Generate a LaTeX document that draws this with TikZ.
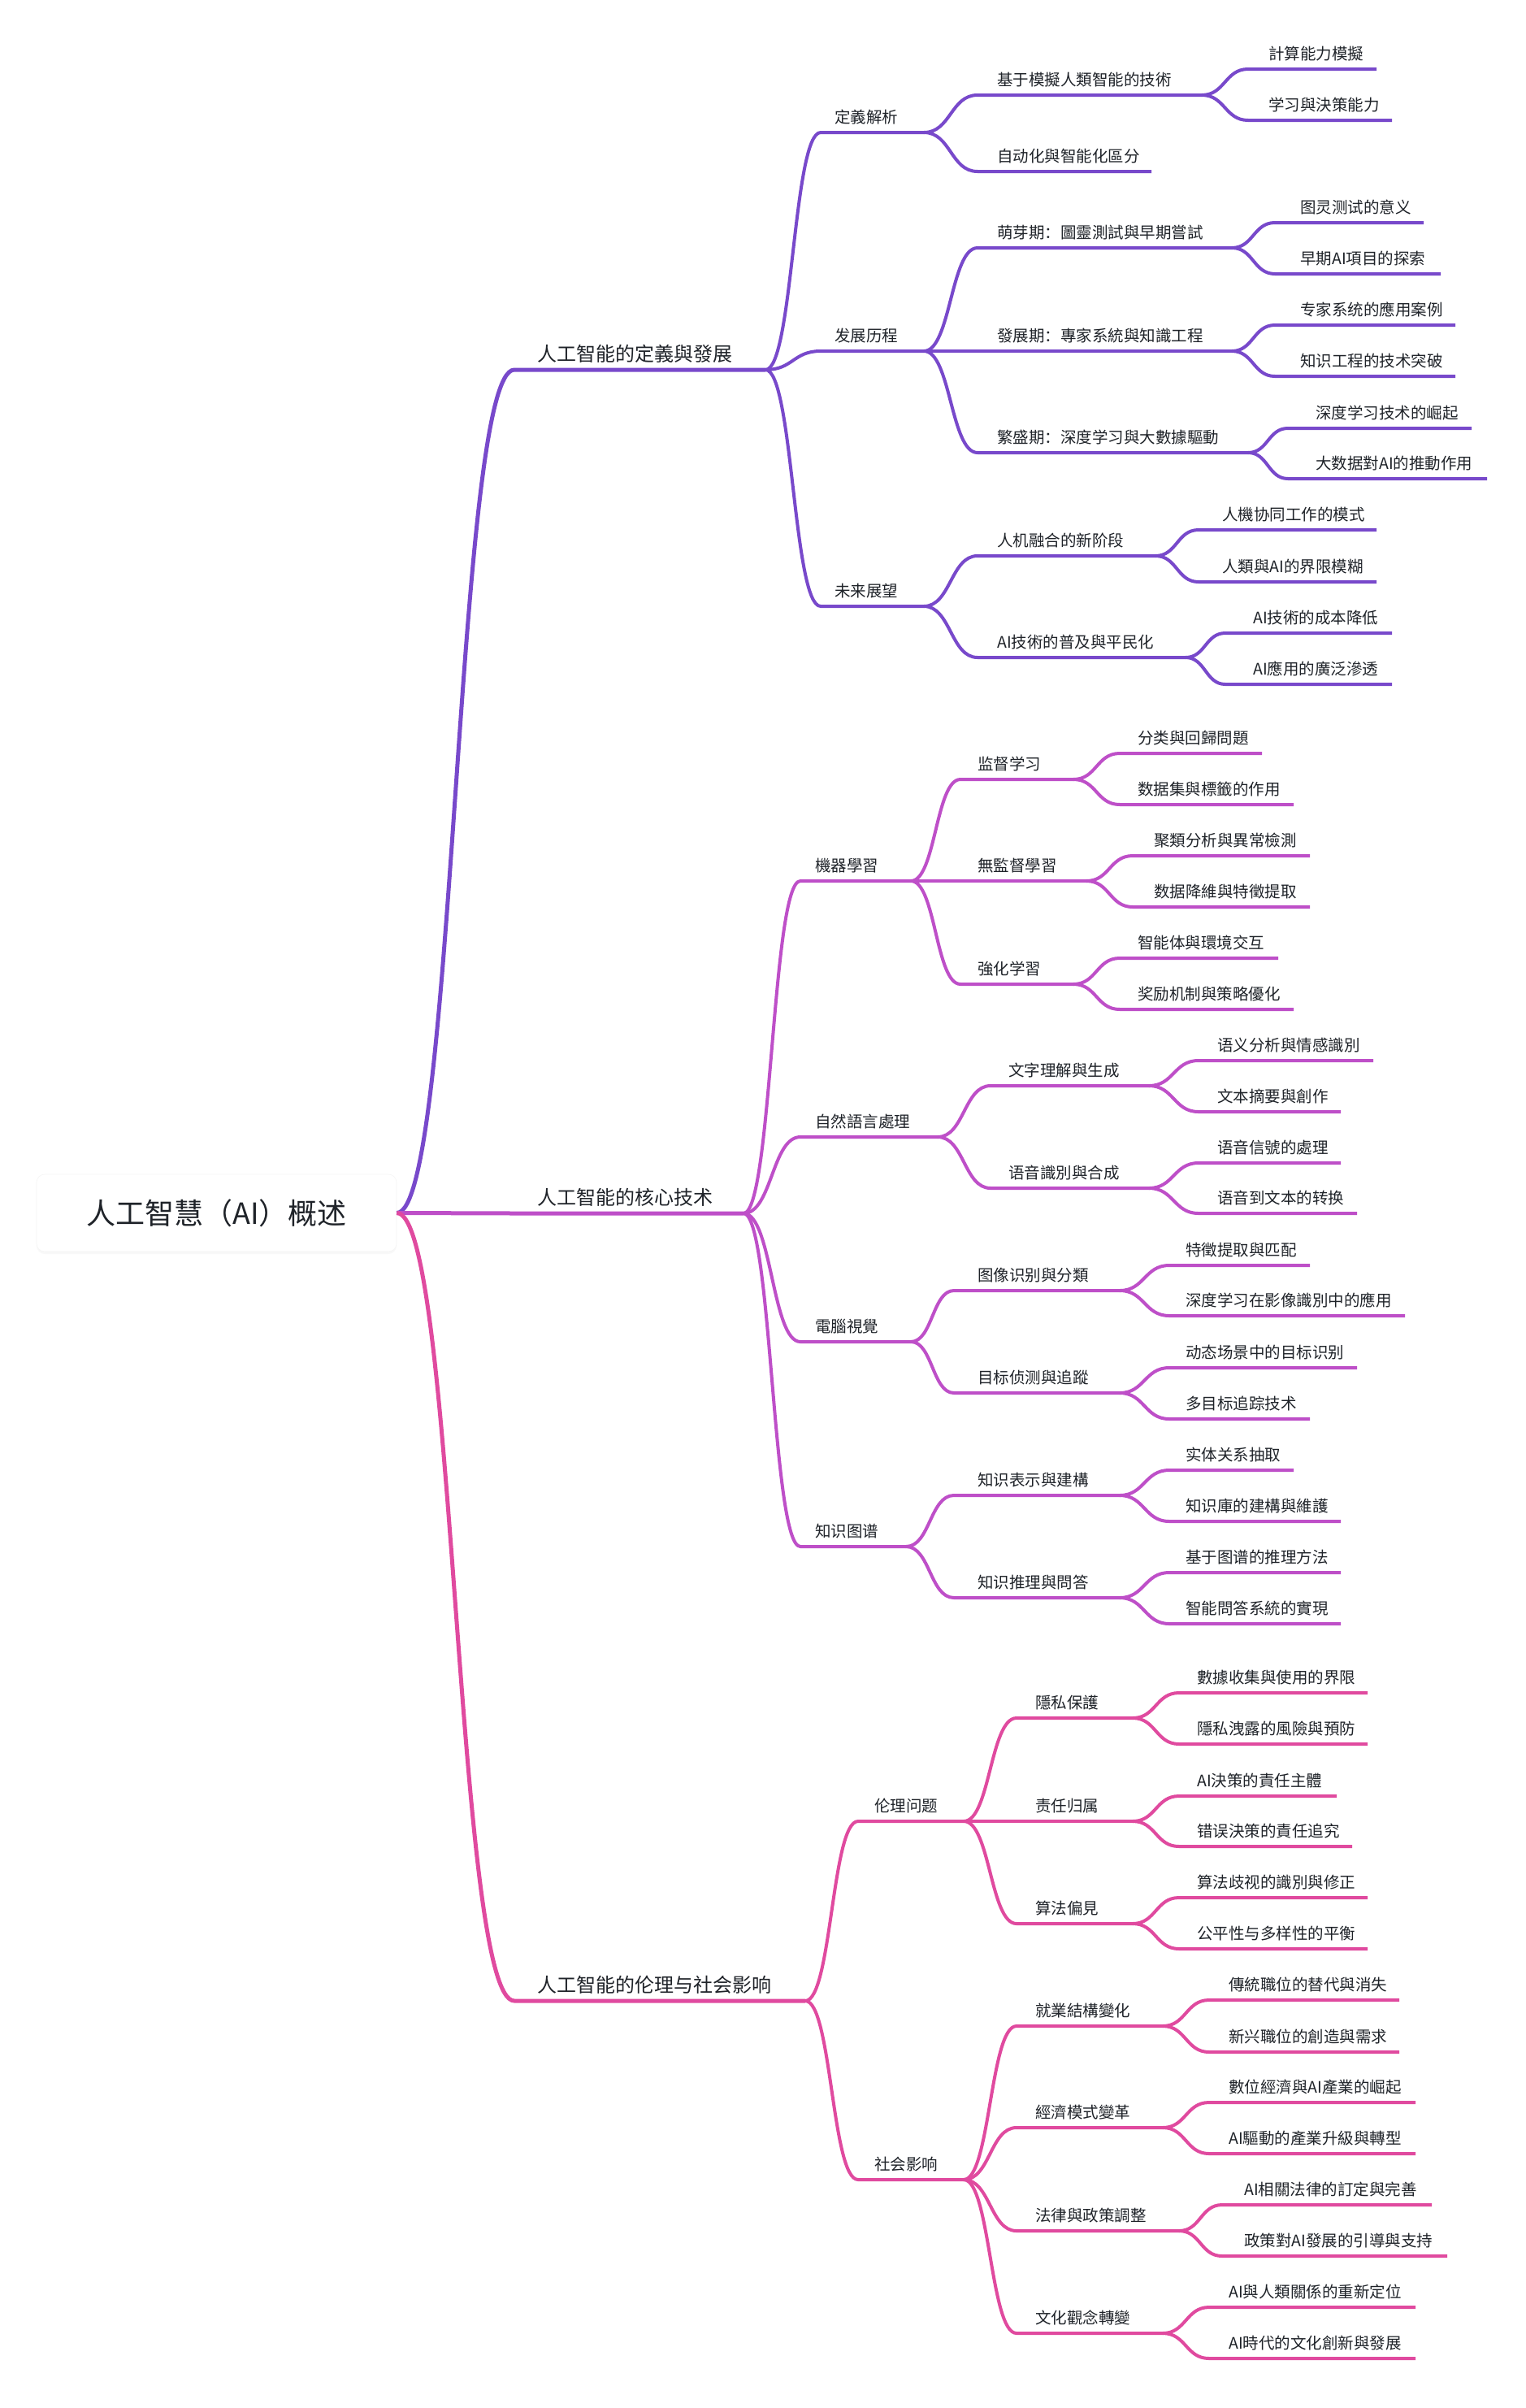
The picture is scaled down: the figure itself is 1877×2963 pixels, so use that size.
\documentclass[tikz,border=0pt]{standalone}
\usepackage{fontspec}
\newfontfamily\cjk{Noto Sans CJK SC}
\usetikzlibrary{calc,shadows}
\definecolor{cA}{HTML}{7849CB}
\definecolor{cB}{HTML}{BE4FC8}
\definecolor{cC}{HTML}{E04A9F}
\definecolor{txt}{HTML}{1F2329}
% level-1 node: name, xs, xe, xt, y, text, style
\newcommand\lone[7]{%
  \coordinate (#1s) at (#2,#5);
  \coordinate (#1e) at (#3,#5);
  \node[lblone,anchor=base west] (#1) at (#4,#5-10.5) {#6};
  \draw[#7,wone] (roote) to[conn] (#1s) -- (#1e);
}
% other nodes: name, parent, xs, xe, xt, y, text, style
\newcommand\mnode[8]{%
  \coordinate (#1s) at (#3,#6);
  \coordinate (#1e) at (#4,#6);
  \node[lbl,anchor=base west] (#1) at (#5,#6-12) {#7};
  \draw[#8,wtwo] (#2e) to[conn] (#1s) -- (#1e);
}
\begin{document}
\begin{tikzpicture}[x=1pt,y=-1pt,
  conn/.style={to path={let \p1=(\tikztostart), \p2=(\tikztotarget) in
     .. controls ({(\x1+\x2)/2},\y1) and ({(\x1+\x2)/2},\y2) .. (\tikztotarget)}},
  bA/.style={draw=cA,line join=round},
  bB/.style={draw=cB,line join=round},
  bC/.style={draw=cC,line join=round},
  wone/.style={line width=5pt},
  wtwo/.style={line width=4pt},
  lbl/.style={inner sep=0pt,text=txt,font=\cjk\fontsize{19.5}{23}\selectfont},
  lblone/.style={inner sep=0pt,text=txt,font=\cjk\fontsize{24}{28}\selectfont},
  rootbox/.style={fill=white,draw=black!4,line width=0.6pt,rounded corners=10pt,
     minimum width=443pt,minimum height=95pt,inner sep=0pt,text=txt,
     font=\cjk\fontsize{36}{40}\selectfont,
     drop shadow={opacity=0.05,shadow xshift=0pt,shadow yshift=-3pt}}
]
\fill[white] (0,0) rectangle (1877,2963);
\useasboundingbox (0,0) rectangle (1877,2963);

\node[rootbox] (root) at (266.5,1492.5) {人工智慧（AI）概述};
\coordinate (roote) at (root.east);

% ---------- Branch 1 ----------
\lone{n1}{633}{942}{661}{455}{人工智能的定義與發展}{bA}
\mnode{a}{n1}{1010}{1137}{1027}{163}{定義解析}{bA}
\mnode{b}{n1}{1010}{1137}{1027}{432}{发展历程}{bA}
\mnode{c}{n1}{1010}{1137}{1027}{746}{未来展望}{bA}
\mnode{a1}{a}{1203}{1479}{1227}{117}{基于模擬人類智能的技術}{bA}
\mnode{a2}{a}{1203}{1417}{1227}{211}{自动化與智能化區分}{bA}
\mnode{a11}{a1}{1536}{1694}{1561}{85}{計算能力模擬}{bA}
\mnode{a12}{a1}{1536}{1713}{1561}{148}{学习與決策能力}{bA}
\mnode{b1}{b}{1203}{1516}{1227}{305}{萌芽期：圖靈測試與早期嘗試}{bA}
\mnode{b11}{b1}{1569}{1752}{1600}{274}{图灵测试的意义}{bA}
\mnode{b12}{b1}{1569}{1773}{1600}{337}{早期AI項目的探索}{bA}
\mnode{b2}{b}{1203}{1516}{1227}{432}{發展期：專家系統與知識工程}{bA}
\mnode{b21}{b2}{1569}{1791}{1600}{400}{专家系统的應用案例}{bA}
\mnode{b22}{b2}{1569}{1791}{1600}{463}{知识工程的技术突破}{bA}
\mnode{b3}{b}{1203}{1536}{1227}{557}{繁盛期：深度学习與大數據驅動}{bA}
\mnode{b31}{b3}{1585}{1811}{1619}{527}{深度学习技术的崛起}{bA}
\mnode{b32}{b3}{1585}{1830}{1619}{589}{大数据對AI的推動作用}{bA}
\mnode{c1}{c}{1203}{1422}{1227}{684}{人机融合的新阶段}{bA}
\mnode{c11}{c1}{1475}{1694}{1504}{652}{人機协同工作的模式}{bA}
\mnode{c12}{c1}{1475}{1694}{1504}{716}{人類與AI的界限模糊}{bA}
\mnode{c2}{c}{1203}{1459}{1227}{809}{AI技術的普及與平民化}{bA}
\mnode{c21}{c2}{1508}{1713}{1542}{779}{AI技術的成本降低}{bA}
\mnode{c22}{c2}{1508}{1713}{1542}{842}{AI應用的廣泛滲透}{bA}

% ---------- Branch 2 ----------
\lone{n2}{633}{915}{661}{1493}{人工智能的核心技术}{bB}
\mnode{d}{n2}{985}{1121}{1003}{1084}{機器學習}{bB}
\mnode{e}{n2}{985}{1154}{1003}{1399}{自然語言處理}{bB}
\mnode{f}{n2}{985}{1121}{1003}{1651}{電腦視覺}{bB}
\mnode{g}{n2}{985}{1115}{1003}{1903}{知识图谱}{bB}
\mnode{d1}{d}{1182}{1321}{1203}{959}{监督学习}{bB}
\mnode{d11}{d1}{1378}{1553}{1400}{927}{分类與回歸問題}{bB}
\mnode{d12}{d1}{1378}{1592}{1400}{990}{数据集與標籤的作用}{bB}
\mnode{d2}{d}{1182}{1337}{1203}{1084}{無監督學習}{bB}
\mnode{d21}{d2}{1394}{1612}{1420}{1053}{聚類分析與異常檢測}{bB}
\mnode{d22}{d2}{1394}{1612}{1420}{1116}{数据降維與特徵提取}{bB}
\mnode{d3}{d}{1182}{1321}{1203}{1211}{強化学習}{bB}
\mnode{d31}{d3}{1378}{1573}{1400}{1179}{智能体與環境交互}{bB}
\mnode{d32}{d3}{1378}{1592}{1400}{1242}{奖励机制與策略優化}{bB}
\mnode{e1}{e}{1219}{1414}{1241}{1336}{文字理解與生成}{bB}
\mnode{e11}{e1}{1475}{1690}{1498}{1305}{语义分析與情感識別}{bB}
\mnode{e12}{e1}{1475}{1650}{1498}{1368}{文本摘要與創作}{bB}
\mnode{e2}{e}{1219}{1414}{1241}{1462}{语音識別與合成}{bB}
\mnode{e21}{e2}{1475}{1650}{1498}{1431}{语音信號的處理}{bB}
\mnode{e22}{e2}{1475}{1670}{1498}{1493}{语音到文本的转换}{bB}
\mnode{f1}{f}{1174}{1378}{1203}{1588}{图像识别與分類}{bB}
\mnode{f11}{f1}{1439}{1612}{1459}{1557}{特徵提取與匹配}{bB}
\mnode{f12}{f1}{1439}{1729}{1459}{1619}{深度学习在影像識別中的應用}{bB}
\mnode{f2}{f}{1174}{1378}{1203}{1714}{目标侦测與追蹤}{bB}
\mnode{f21}{f2}{1439}{1670}{1459}{1683}{动态场景中的目标识别}{bB}
\mnode{f22}{f2}{1439}{1612}{1459}{1746}{多目标追踪技术}{bB}
\mnode{g1}{g}{1174}{1378}{1203}{1840}{知识表示與建構}{bB}
\mnode{g11}{g1}{1439}{1592}{1459}{1809}{实体关系抽取}{bB}
\mnode{g12}{g1}{1439}{1650}{1459}{1872}{知识庫的建構與維護}{bB}
\mnode{g2}{g}{1174}{1378}{1203}{1966}{知识推理與問答}{bB}
\mnode{g21}{g2}{1439}{1650}{1459}{1935}{基于图谱的推理方法}{bB}
\mnode{g22}{g2}{1439}{1650}{1459}{1998}{智能問答系統的實現}{bB}

% ---------- Branch 3 ----------
\lone{n3}{633}{991}{661}{2462}{人工智能的伦理与社会影响}{bC}
\mnode{h}{n3}{1056}{1186}{1076}{2241}{伦理问题}{bC}
\mnode{i}{n3}{1056}{1186}{1076}{2682}{社会影响}{bC}
\mnode{h1}{h}{1251}{1394}{1274}{2114}{隱私保護}{bC}
\mnode{h11}{h1}{1451}{1683}{1473}{2083}{數據收集與使用的界限}{bC}
\mnode{h12}{h1}{1451}{1683}{1473}{2146}{隱私洩露的風險與預防}{bC}
\mnode{h2}{h}{1251}{1394}{1274}{2241}{责任归属}{bC}
\mnode{h21}{h2}{1451}{1645}{1473}{2210}{AI決策的責任主體}{bC}
\mnode{h22}{h2}{1451}{1664}{1473}{2272}{错误決策的責任追究}{bC}
\mnode{h3}{h}{1251}{1394}{1274}{2367}{算法偏見}{bC}
\mnode{h31}{h3}{1451}{1683}{1473}{2335}{算法歧视的識別與修正}{bC}
\mnode{h32}{h3}{1451}{1683}{1473}{2398}{公平性与多样性的平衡}{bC}
\mnode{i1}{i}{1251}{1431}{1274}{2493}{就業結構變化}{bC}
\mnode{i11}{i1}{1488}{1722}{1512}{2461}{傳統職位的替代與消失}{bC}
\mnode{i12}{i1}{1488}{1722}{1512}{2525}{新兴職位的創造與需求}{bC}
\mnode{i2}{i}{1251}{1431}{1274}{2618}{經濟模式變革}{bC}
\mnode{i21}{i2}{1488}{1742}{1512}{2587}{數位經濟與AI產業的崛起}{bC}
\mnode{i22}{i2}{1488}{1742}{1512}{2650}{AI驅動的產業升級與轉型}{bC}
\mnode{i3}{i}{1251}{1451}{1274}{2745}{法律與政策調整}{bC}
\mnode{i31}{i3}{1504}{1762}{1531}{2713}{AI相關法律的訂定與完善}{bC}
\mnode{i32}{i3}{1504}{1781}{1531}{2776}{政策對AI發展的引導與支持}{bC}
\mnode{i4}{i}{1251}{1431}{1274}{2871}{文化觀念轉變}{bC}
\mnode{i41}{i4}{1488}{1742}{1512}{2839}{AI與人類關係的重新定位}{bC}
\mnode{i42}{i4}{1488}{1742}{1512}{2902}{AI時代的文化創新與發展}{bC}
\end{tikzpicture}
\end{document}
